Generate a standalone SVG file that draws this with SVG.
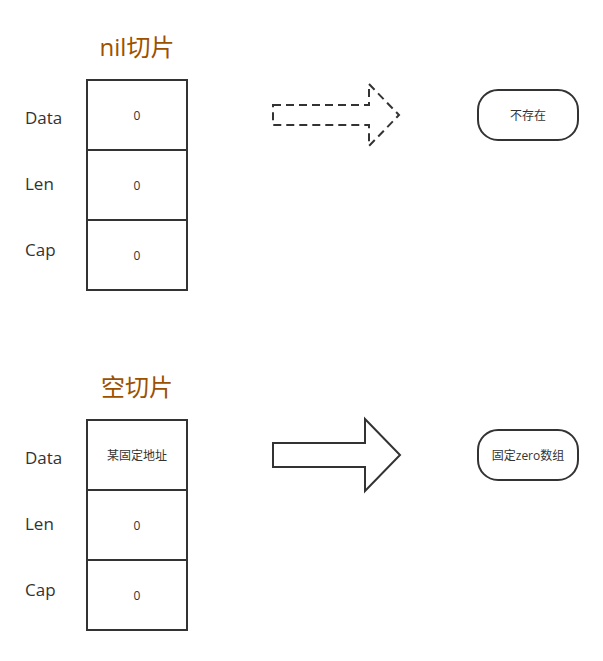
<svg xmlns="http://www.w3.org/2000/svg" width="603" height="661" viewBox="0 0 603 661">
<style>
.cell{fill:#fff;stroke:#333;stroke-width:2}
.lbl{font-family:"Open Sans","Noto Sans CJK SC",sans-serif;font-size:17px;fill:#333}
.ct{font-family:"Open Sans","Noto Sans CJK SC",sans-serif;font-size:12px;fill:#333;text-anchor:middle}
.title{font-family:"Open Sans","Noto Sans CJK SC",sans-serif;font-size:24px;fill:#9c5100;text-anchor:middle}
.arr{fill:#fff;stroke:#333;stroke-width:2}
.term{fill:#fff;stroke:#333;stroke-width:2}
</style>
<rect width="603" height="661" fill="#fff"/>
<g id="nil-title"><text class="title" x="137" y="56">nil切片</text></g>
<g id="nil-table">
<rect class="cell" x="87" y="80" width="100" height="70"/>
<rect class="cell" x="87" y="150" width="100" height="70"/>
<rect class="cell" x="87" y="220" width="100" height="70"/>
<text class="ct" x="137" y="120">0</text>
<text class="ct" x="137" y="190">0</text>
<text class="ct" x="137" y="260">0</text>
</g>
<g id="nil-labels">
<text class="lbl" x="25" y="124">Data</text>
<text class="lbl" x="25" y="190">Len</text>
<text class="lbl" x="25" y="256">Cap</text>
</g>
<g id="empty-title"><text class="title" x="137" y="396">空切片</text></g>
<g id="empty-table">
<rect class="cell" x="87" y="420" width="100" height="70"/>
<rect class="cell" x="87" y="490" width="100" height="70"/>
<rect class="cell" x="87" y="560" width="100" height="70"/>
<text class="ct" x="137" y="460">某固定地址</text>
<text class="ct" x="137" y="530">0</text>
<text class="ct" x="137" y="600">0</text>
</g>
<g id="empty-labels">
<text class="lbl" x="25" y="464">Data</text>
<text class="lbl" x="25" y="530">Len</text>
<text class="lbl" x="25" y="596">Cap</text>
</g>
<g id="connectors">
<path class="arr" stroke-dasharray="8 5" d="M273,105 L369,105 L369,84 L399,115 L369,146 L369,125 L273,125 Z"/>
<path class="arr" d="M273,443 L365,443 L365,419 L400,455 L365,491 L365,467 L273,467 Z"/>
</g>
<g id="not-exist">
<rect class="term" x="478" y="90" width="100" height="50" rx="20"/>
<text class="ct" x="528" y="120">不存在</text>
</g>
<g id="zero-array">
<rect class="term" x="478" y="430" width="100" height="50" rx="20"/>
<text class="ct" x="528" y="460">固定zero数组</text>
</g>
</svg>
